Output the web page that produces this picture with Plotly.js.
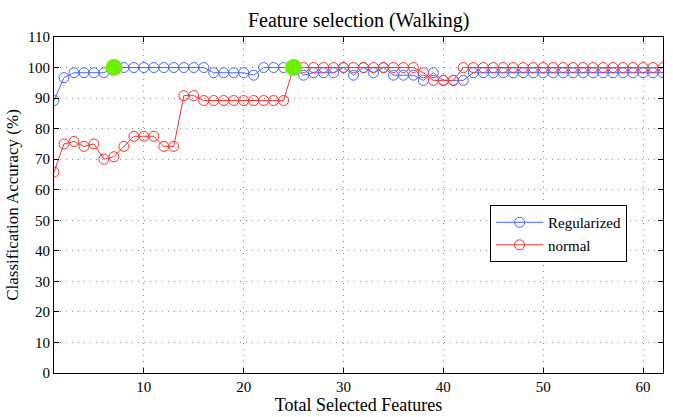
<!DOCTYPE html>
<html><head><meta charset="utf-8">
<script src="https://cdn.plot.ly/plotly-3.0.1.min.js"></script>
<style>html,body{margin:0;padding:0;background:#fff}#c{width:673px;height:417px}</style>
</head><body><div id="c"></div>
<script>
var features = [];
for (var i = 1; i <= 62; i++) features.push(i);
var regularized = [89.2,96.7,98.3,98.3,98.3,98.3,100,100,100,100,100,100,100,100,100,100,98.3,98.3,98.3,98.3,97.5,100,100,100,100,97.5,98.3,98.3,98.3,100,97.5,100,98.3,100,97.5,97.5,97.5,95.8,98.3,95.8,95.8,95.8,98.3,98.3,98.3,98.3,98.3,98.3,98.3,98.3,98.3,98.3,98.3,98.3,98.3,98.3,98.3,98.3,98.3,98.3,98.3,98.3];
var normal = [65.8,75,75.8,74.2,75,70,70.8,74.2,77.5,77.5,77.5,74.2,74.2,90.8,90.8,89.2,89.2,89.2,89.2,89.2,89.2,89.2,89.2,89.2,100,100,100,100,100,100,100,100,100,100,100,100,100,98.3,95.8,95.8,95.8,100,100,100,100,100,100,100,100,100,100,100,100,100,100,100,100,100,100,100,100,100];
var bestX = [7, 25];
var bestY = [100, 100];
var xTicks = [10,20,30,40,50,60];
var yTicks = [0,10,20,30,40,50,60,70,80,90,100,110];

var serif = 'Liberation Serif, Times New Roman, serif';
var traces = [
  {x: features, y: regularized, name: 'Regularized', mode: 'lines+markers',
   line: {color: '#4464ff', width: 1},
   marker: {symbol: 'circle-open', size: 10, color: '#4464ff', line: {width: 1}}},
  {x: features, y: normal, name: 'normal', mode: 'lines+markers',
   line: {color: '#ff2e2e', width: 1},
   marker: {symbol: 'circle-open', size: 10, color: '#ff2e2e', line: {width: 1}}},
  {x: bestX, y: bestY, mode: 'markers', showlegend: false, hoverinfo: 'skip',
   marker: {symbol: 'circle', size: 17, color: '#6cf000'}}
];
var axisCommon = {
  showline: true, linecolor: '#000', linewidth: 1, mirror: 'ticks',
  ticks: 'inside', ticklen: 5, tickcolor: '#000',
  showgrid: true, gridcolor: '#8a8a8a', griddash: '1px,5px', gridwidth: 1,
  zeroline: false, tickfont: {family: serif, size: 15, color: '#000'}
};
var layout = {
  width: 673, height: 417,
  margin: {l: 54, r: 10, t: 37, b: 44},
  paper_bgcolor: '#fff', plot_bgcolor: '#fff',
  title: {text: 'Feature selection (Walking)', font: {family: serif, size: 20, color: '#000'},
          x: 0.533, xanchor: 'center', yref: 'container', y: 0.952, yanchor: 'middle'},
  xaxis: Object.assign({}, axisCommon, {range: [1, 62], tickvals: xTicks,
    title: {text: 'Total Selected Features', font: {family: serif, size: 18, color: '#000'}, standoff: 1}}),
  yaxis: Object.assign({}, axisCommon, {range: [0, 110], tickvals: yTicks,
    title: {text: 'Classification Accuracy (%)', font: {family: serif, size: 17, color: '#000'}, standoff: 4}}),
  legend: {x: 0.716, y: 0.415, xanchor: 'left', yanchor: 'middle', bgcolor: '#fff',
    bordercolor: '#000', borderwidth: 1, font: {family: serif, size: 15, color: '#000'},
    itemwidth: 47, tracegroupgap: 0},
  showlegend: true
};
Plotly.newPlot('c', traces, layout, {displayModeBar: false, staticPlot: true});
</script></body></html>
